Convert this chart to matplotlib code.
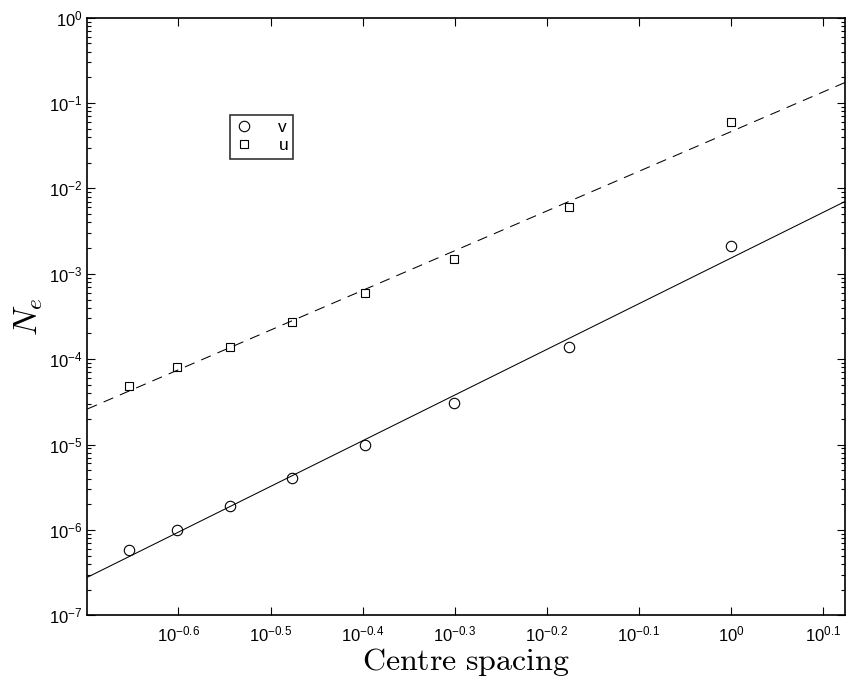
import numpy as np
import matplotlib
matplotlib.use('Agg')
import matplotlib.pyplot as plt
from matplotlib.ticker import FixedLocator, FixedFormatter, LogLocator, NullLocator

# centre spacing values (1/n for n = 4.5 ... 1)
spacing = [2/9, 1/4, 2/7, 1/3, 2/5, 1/2, 2/3, 1.0]
# N_e measured for the two components
ne_v = [5.8e-7, 1.0e-6, 1.9e-6, 4.1e-6, 1.0e-5, 3.1e-5, 1.4e-4, 2.1e-3]
ne_u = [4.8e-5, 8.0e-5, 1.4e-4, 2.7e-4, 6.0e-4, 1.5e-3, 6.0e-3, 6.0e-2]

xtick_exp = [-0.6, -0.5, -0.4, -0.3, -0.2, -0.1, 0, 0.1]
xtick_labels = ['$10^{-0.6}$', '$10^{-0.5}$', '$10^{-0.4}$', '$10^{-0.3}$',
                '$10^{-0.2}$', '$10^{-0.1}$', '$10^{0}$', '$10^{0.1}$']
ytick_exp = [-7, -6, -5, -4, -3, -2, -1, 0]

plt.rcParams['font.family'] = ['Liberation Sans', 'DejaVu Sans']
plt.rcParams['mathtext.fontset'] = 'custom'
plt.rcParams['mathtext.rm'] = 'Liberation Sans'
plt.rcParams['mathtext.it'] = 'Liberation Sans:italic'
plt.rcParams['mathtext.bf'] = 'Liberation Sans:bold'

fig = plt.figure(figsize=(8.48, 6.86), dpi=100)
ax = fig.add_axes([0.103, 0.1031, 0.8935, 0.8711])

x = np.array(spacing)
xlo, xhi = 0.2, 1.33
xx = np.array([xlo, xhi])

# least-squares power law fits in log-log space
pv = np.polyfit(np.log10(x), np.log10(ne_v), 1)
pu = np.polyfit(np.log10(x), np.log10(ne_u), 1)
ax.plot(xx, 10 ** np.polyval(pv, np.log10(xx)), color='k', lw=0.75)
ax.plot(xx, 10 ** np.polyval(pu, np.log10(xx)), color='k', lw=0.75,
        dashes=(10, 7))

ax.plot(x, ne_v, 'o', ls='none', mfc='none', mec='k', mew=0.8, ms=7.5,
        label='v')
ax.plot(x, ne_u, 's', ls='none', mfc='none', mec='k', mew=0.8, ms=6,
        label='u')

ax.set_xscale('log')
ax.set_yscale('log')
ax.set_xlim(xlo, xhi)
ax.set_ylim(1e-7, 1)

ax.xaxis.set_major_locator(FixedLocator([10 ** e for e in xtick_exp]))
ax.xaxis.set_major_formatter(FixedFormatter(xtick_labels))
ax.xaxis.set_minor_locator(NullLocator())
ax.yaxis.set_major_locator(FixedLocator([10.0 ** e for e in ytick_exp]))
ax.yaxis.set_major_formatter(FixedFormatter(['$10^{%d}$' % e for e in ytick_exp]))
ax.yaxis.set_minor_locator(LogLocator(base=10, subs=np.arange(2, 10), numticks=20))

ax.tick_params(which='both', direction='in', top=True, right=True,
               labelsize=12, width=0.8)
ax.tick_params(which='major', length=6)
ax.tick_params(which='minor', length=3)
ax.tick_params(axis='x', pad=7)
for s in ax.spines.values():
    s.set_linewidth(1.2)

ax.set_xlabel(r'$\mathrm{Centre\ spacing}$', fontsize=23,
              math_fontfamily='cm', labelpad=1)
ax.set_ylabel(r'$N_e$', fontsize=24, math_fontfamily='cm', labelpad=3)

leg = ax.legend(loc='upper left', bbox_to_anchor=(0.188, 0.838),
                frameon=True, fancybox=False, edgecolor='k', fontsize=12.5,
                handlelength=1.0, handletextpad=1.5, borderpad=0.3,
                labelspacing=0.2, borderaxespad=0)
leg.get_frame().set_linewidth(1.2)

fig.savefig('out.png', dpi=100)
